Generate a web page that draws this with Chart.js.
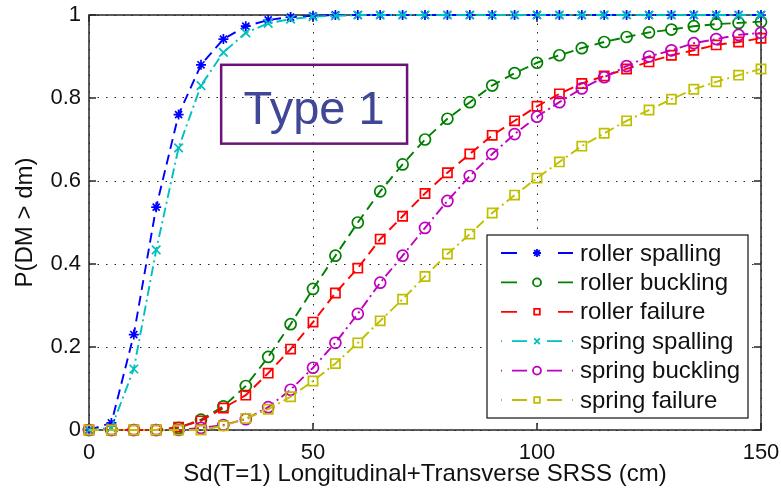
<!DOCTYPE html>
<html>
<head>
<meta charset="utf-8">
<script src="https://cdn.jsdelivr.net/npm/chart.js@4.4.1/dist/chart.umd.min.js"></script>
<style>
  html, body { margin: 0; padding: 0; background: #fff; }
  canvas { display: block; }
</style>
</head>
<body>
<canvas id="chart" width="781" height="495"></canvas>
<script>
// Sd(T=1) sample points, cm
const sd = [0, 5, 10, 15, 20, 25, 30, 35, 40, 45, 50, 55, 60, 65, 70, 75,
            80, 85, 90, 95, 100, 105, 110, 115, 120, 125, 130, 135, 140, 145, 150];

// exceedance probabilities per damage state
const rollerSpalling = [0, 0.017, 0.23, 0.537, 0.76, 0.88, 0.942, 0.973, 0.988, 0.995, 0.998, 1, 1, 1, 1, 1,
                        1, 1, 1, 1, 1, 1, 1, 1, 1, 1, 1, 1, 1, 1, 1];
const rollerBuckling = [0, 0, 0, 0, 0.005, 0.025, 0.057, 0.106, 0.176, 0.255, 0.34, 0.42, 0.5, 0.575, 0.64, 0.7,
                        0.75, 0.79, 0.83, 0.86, 0.885, 0.903, 0.92, 0.935, 0.947, 0.958, 0.965, 0.973, 0.978, 0.981, 0.984];
const rollerFailure  = [0, 0, 0, 0, 0.007, 0.022, 0.053, 0.084, 0.137, 0.195, 0.26, 0.33, 0.39, 0.46, 0.515, 0.57,
                        0.62, 0.665, 0.71, 0.745, 0.78, 0.81, 0.835, 0.853, 0.87, 0.887, 0.903, 0.915, 0.928, 0.935, 0.944];
const springSpalling = [0, 0.005, 0.147, 0.434, 0.68, 0.83, 0.91, 0.957, 0.98, 0.99, 0.996, 0.998, 1, 1, 1, 1,
                        1, 1, 1, 1, 1, 1, 1, 1, 1, 1, 1, 1, 1, 1, 1];
const springBuckling = [0, 0, 0, 0, 0, 0.005, 0.012, 0.026, 0.055, 0.097, 0.15, 0.21, 0.28, 0.355, 0.42, 0.487,
                        0.552, 0.612, 0.665, 0.713, 0.755, 0.79, 0.823, 0.85, 0.877, 0.9, 0.915, 0.932, 0.942, 0.952, 0.957];
const springFailure  = [0, 0, 0, 0, 0, 0, 0.01, 0.028, 0.05, 0.08, 0.118, 0.16, 0.21, 0.263, 0.315, 0.37,
                        0.424, 0.472, 0.523, 0.566, 0.607, 0.646, 0.684, 0.715, 0.745, 0.771, 0.797, 0.821, 0.839, 0.855, 0.87];

const labels = ["roller spalling", "roller buckling", "roller failure",
                "spring spalling", "spring buckling", "spring failure"];
const xTicks = [0, 50, 100, 150];
const yTicks = [0, 0.2, 0.4, 0.6, 0.8, 1];

const values  = [rollerSpalling, rollerBuckling, rollerFailure, springSpalling, springBuckling, springFailure];
const colors  = ["#0000ff", "#008000", "#ff0000", "#00bfbf", "#bf00bf", "#bfbf00"];
const markers = ["star", "circle", "rect", "crossRot", "circle", "rect"];
const sizes   = [5, 5.5, 6.5, 6, 5.5, 6.5];
const dashed  = [10, 6];
const dashDot = [10, 4, 2, 4];

const font = "'Liberation Sans', Arial, Helvetica, sans-serif";

// box around the axes with inward ticks on all four sides
const frame = {
	id: "frame",
	beforeDatasetsDraw(chart) {
		const { ctx, chartArea: a, scales } = chart;
		ctx.save();
		ctx.strokeStyle = "#262626";
		ctx.lineWidth = 1.5;
		ctx.strokeRect(a.left, a.top, a.right - a.left, a.bottom - a.top);
		ctx.beginPath();
		xTicks.forEach(v => {
			const x = scales.x.getPixelForValue(v);
			ctx.moveTo(x, a.bottom); ctx.lineTo(x, a.bottom - 7);
			ctx.moveTo(x, a.top); ctx.lineTo(x, a.top + 7);
		});
		yTicks.forEach(v => {
			const y = scales.y.getPixelForValue(v);
			ctx.moveTo(a.left, y); ctx.lineTo(a.left + 7, y);
			ctx.moveTo(a.right, y); ctx.lineTo(a.right - 7, y);
		});
		ctx.stroke();
		ctx.restore();
	}
};

// "Type 1" label box
const note = {
	id: "note",
	afterDatasetsDraw(chart) {
		const { ctx, scales } = chart;
		const x1 = scales.x.getPixelForValue(29.5), x2 = scales.x.getPixelForValue(71);
		const y1 = scales.y.getPixelForValue(0.88), y2 = scales.y.getPixelForValue(0.69);
		ctx.save();
		ctx.strokeStyle = "#6a1478";
		ctx.lineWidth = 2.5;
		ctx.strokeRect(x1, y1, x2 - x1, y2 - y1);
		ctx.fillStyle = "#404796";
		ctx.font = "47px " + font;
		ctx.textAlign = "center";
		ctx.textBaseline = "alphabetic";
		ctx.fillText("Type 1", (x1 + x2) / 2, y1 + 59);
		ctx.restore();
	}
};

// legend inside the lower right corner of the axes
const legendBox = {
	id: "legendBox",
	afterDatasetsDraw(chart) {
		const { ctx, chartArea: a } = chart;
		const right = a.right - 13, bottom = a.bottom - 12;
		const left = right - 261, top = bottom - 183;
		ctx.save();
		ctx.fillStyle = "#fff";
		ctx.fillRect(left, top, right - left, bottom - top);
		ctx.strokeStyle = "#111";
		ctx.lineWidth = 1.2;
		ctx.strokeRect(left, top, right - left, bottom - top);
		chart.data.datasets.forEach((ds, i) => {
			const y = top + 18 + i * 29.4;
			ctx.save();
			ctx.strokeStyle = ds.borderColor;
			ctx.lineWidth = 1.8;
			ctx.setLineDash(i < 3 ? [16, 41] : [1, 10, 15, 20, 15, 10, 1]);
			ctx.beginPath();
			ctx.moveTo(left + 14, y);
			ctx.lineTo(left + 86, y);
			ctx.stroke();
			ctx.setLineDash([]);
			ctx.fillStyle = "rgba(0,0,0,0)";
			Chart.helpers.drawPoint(ctx, { pointStyle: ds.pointStyle, radius: 4, rotation: 0, borderWidth: 1.6 }, left + 50, y);
			ctx.restore();
			ctx.fillStyle = "#111";
			ctx.font = "24px " + font;
			ctx.textAlign = "left";
			ctx.textBaseline = "middle";
			ctx.fillText(ds.label, left + 93, y + 1);
		});
		ctx.restore();
	}
};

const datasets = labels.map((label, i) => ({
	label: label,
	data: sd.map((x, j) => ({ x: x, y: values[i][j] })),
	borderColor: colors[i],
	borderWidth: 1.9,
	borderDash: i < 3 ? dashed : dashDot,
	pointStyle: markers[i],
	pointRadius: sizes[i],
	pointBorderColor: colors[i],
	pointBackgroundColor: "rgba(0,0,0,0)",
	pointBorderWidth: 1.7,
	tension: 0,
	fill: false,
	clip: false,
	order: labels.length - 1 - i
}));

const grid = {
	color: "#222",
	lineWidth: 1,
	drawTicks: false
};

new Chart(document.getElementById("chart"), {
	type: "line",
	data: { datasets: datasets },
	options: {
		responsive: false,
		animation: false,
		devicePixelRatio: 1,
		layout: { padding: { top: 15, right: 20, left: 0, bottom: 0 } },
		plugins: { legend: { display: false }, tooltip: { enabled: false } },
		scales: {
			x: {
				type: "linear",
				min: 0,
				max: 150,
				afterBuildTicks: s => { s.ticks = xTicks.map(v => ({ value: v })); },
				afterFit: s => { s.height = 65; s.paddingLeft = 0; s.paddingRight = 0; },
				grid: grid,
				border: { display: false, dash: [1.5, 7] },
				ticks: { padding: 10, color: "#111", font: { size: 22, family: font }, callback: v => String(v) },
				title: {
					display: true,
					text: "Sd(T=1) Longitudinal+Transverse SRSS (cm)",
					color: "#111",
					font: { size: 24, family: font },
					padding: { top: 0, bottom: 6.6 }
				}
			},
			y: {
				type: "linear",
				min: 0,
				max: 1,
				afterBuildTicks: s => { s.ticks = yTicks.map(v => ({ value: v })); },
				afterFit: s => { s.width = 89; s.paddingTop = 0; s.paddingBottom = 0; },
				grid: grid,
				border: { display: false, dash: [1.5, 7] },
				ticks: { padding: 8, color: "#111", font: { size: 22, family: font }, callback: v => String(v) },
				title: {
					display: true,
					text: "P(DM > dm)",
					color: "#111",
					font: { size: 24, family: font },
					padding: { top: 10.6, bottom: 0 }
				}
			}
		}
	},
	plugins: [frame, note, legendBox]
});
</script>
</body>
</html>
